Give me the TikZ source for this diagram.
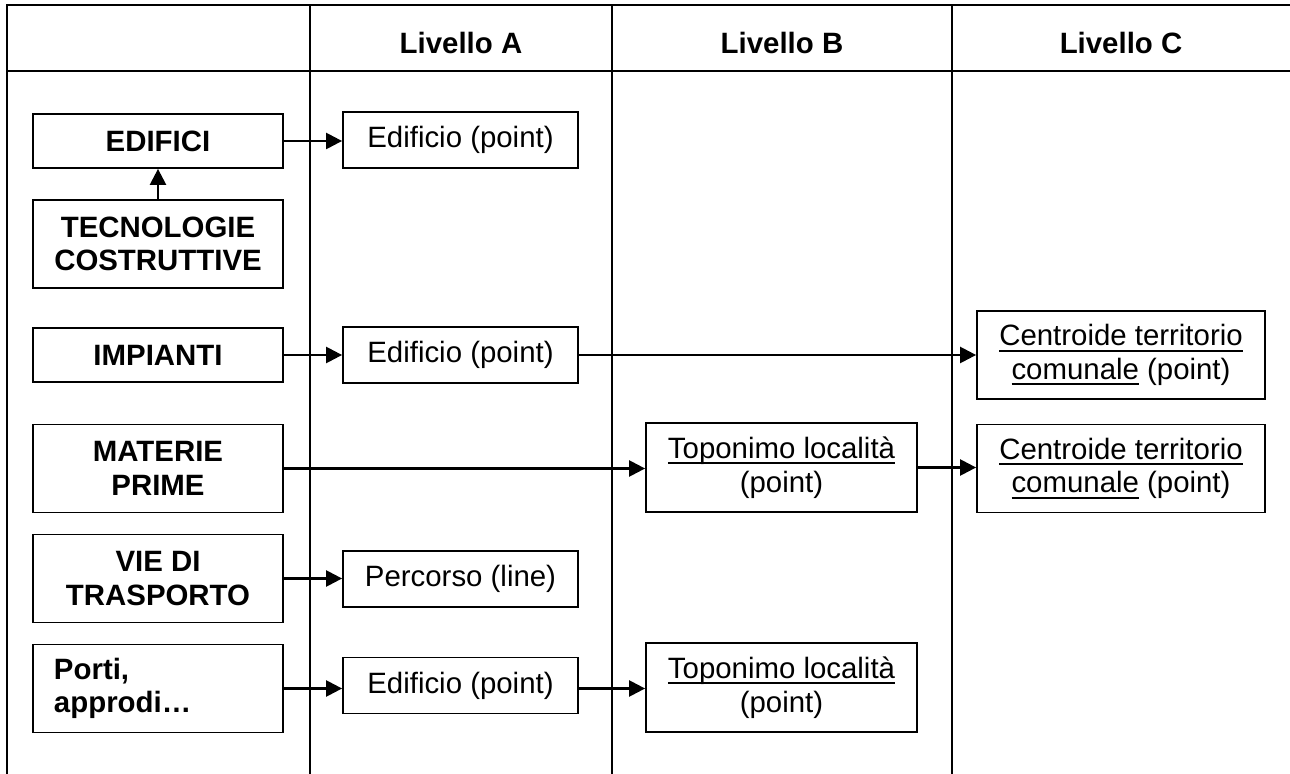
\documentclass[tikz,border=0pt]{standalone}
\usepackage{fontspec}
\setmainfont{Liberation Sans}
\usetikzlibrary{arrows.meta,positioning}
\newcommand{\sottolinea}[1]{\leavevmode\setbox0\hbox{#1}\rlap{\rule[-3pt]{\wd0}{1pt}}\box0\relax}
\tikzset{
    %Define standard arrow tip
    >={Triangle[length=8pt,width=8pt]},
    %Define style for the left boxes
    voce/.style={
           rectangle,
           draw=black, line width=0.9pt,
           minimum width=125pt,
           minimum height=27pt,
           font=\fontsize{14.7}{16.8}\selectfont\bfseries,
           align=center},
    %Define style for the level boxes
    livello/.style={
           rectangle,
           draw=black, line width=0.9pt,
           minimum width=117.5pt,
           minimum height=28pt,
           font=\fontsize{14.7}{16.8}\selectfont,
           align=center},
    titolo/.style={
           font=\fontsize{14.7}{16.8}\selectfont\bfseries},
    griglia/.style={
           line width=1.3pt},
    % Define arrow style
    pil/.style={
           ->,
           line width=1.2pt}
}
\begin{document}
\begin{tikzpicture}[x=0.5pt,y=-0.5pt]
\useasboundingbox (0,0) rectangle (1290,774);
 %table
\draw[griglia] (7,774) -- (7,5) -- (1290,5);
\draw[griglia] (7,71) -- (1290,71);
\foreach \x in {310,612,952}
    \draw[griglia] (\x,5) -- (\x,774);
\node[titolo] (tA) at (461,43) {Livello A};
\node[titolo] (tB) at (782,43) {Livello B};
\node[titolo] (tC) at (1121,43) {Livello C};
 %nodes
\node[voce] (edifici) at (158,141) {EDIFICI};
\node[voce, minimum height=44pt] (tecno) at (158,244) {TECNOLOGIE\\COSTRUTTIVE};
\node[voce] (impianti) at (158,355) {IMPIANTI};
\node[voce, minimum height=44pt] (materie) at (158,468.5) {MATERIE\\PRIME};
\node[voce, minimum height=44pt] (vie) at (158,578.5) {VIE DI\\TRASPORTO};
\node[voce, minimum height=44pt, text width=104pt, inner xsep=10.5pt, align=left] (porti) at (158,688.5) {Porti,\\approdi…};
\node[livello] (edA1) at (460.5,140) {Edificio (point)};
\node[livello] (edA2) at (460.5,355) {Edificio (point)};
\node[livello] (percorso) at (460.5,579) {Percorso (line)};
\node[livello] (edA3) at (460.5,685.5) {Edificio (point)};
\node[livello, minimum width=135.5pt, minimum height=44.5pt] (topo1) at (781.5,467.5) {\sottolinea{Toponimo località}\\(point)};
\node[livello, minimum width=135.5pt, minimum height=44.5pt] (topo2) at (781.5,687.5) {\sottolinea{Toponimo località}\\(point)};
\node[livello, minimum width=144pt, minimum height=44pt] (centr1) at (1121,355) {\sottolinea{Centroide territorio}\\\sottolinea{comunale} (point)};
\node[livello, minimum width=144pt, minimum height=44pt] (centr2) at (1121,468.5) {\sottolinea{Centroide territorio}\\\sottolinea{comunale} (point)};
 %arrows
\draw[pil] (tecno) -- (tecno |- edifici.south);
\draw[pil] (edifici) -- (edifici -| edA1.west);
\draw[pil] (impianti) -- (impianti -| edA2.west);
\draw[pil] (edA2) -- (edA2 -| centr1.west);
\draw[pil] (materie) -- (materie -| topo1.west);
\draw[pil] (topo1) -- (topo1 -| centr2.west);
\draw[pil] (vie) -- (vie -| percorso.west);
\draw[pil] (porti) -- (porti -| edA3.west);
\draw[pil] (edA3.east |- porti) -- (edA3.east |- porti -| topo2.west);
\end{tikzpicture}
\end{document}
